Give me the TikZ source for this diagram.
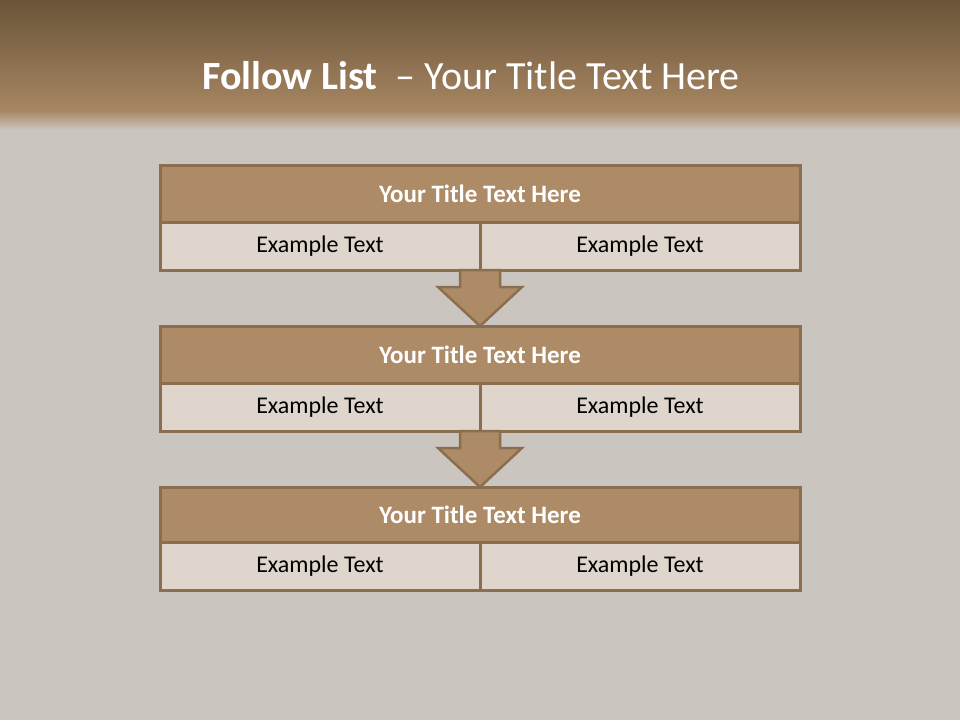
\documentclass[tikz,border=0pt]{standalone}
\usepackage{fontspec}
\setmainfont{Carlito}
\usetikzlibrary{positioning}
\definecolor{wdbrown}{RGB}{174,139,103}
\definecolor{wdedge}{RGB}{139,110,80}
\definecolor{wdlight}{RGB}{222,214,205}
\definecolor{wdback}{RGB}{203,197,191}
\definecolor{wddark}{RGB}{106,84,57}
\definecolor{wdband}{RGB}{166,134,98}

\begin{document}
\begin{tikzpicture}[x=1pt,y=-1pt,
  titlebox/.style={draw=wdedge, line width=3pt, fill=wdbrown, minimum width=640pt,
    minimum height=57pt, inner sep=0pt, outer sep=0pt, text=white,
    font=\fontsize{25}{29}\selectfont\bfseries},
  cellbox/.style={draw=wdedge, line width=3pt, fill=wdlight, minimum width=320pt,
    minimum height=48pt, inner sep=0pt, outer sep=0pt, text=black,
    font=\fontsize{24}{28}\selectfont},
  downarrow/.style={draw=wdedge, line width=2.5pt, fill=wdbrown, line join=miter}]
% background and header band
\fill[wdback] (0,0) rectangle (960,720);
\shade[top color=wddark, bottom color=wdband] (0,0) rectangle (960,110);
\shade[top color=wdband, bottom color=wdback] (0,110) rectangle (960,130);
\node[text=white, font=\fontsize{40}{46}\selectfont] (head) at (471,76)
  {\textbf{Follow List} \ -- Your Title Text Here};
% first block
\node[titlebox] (t1) at (480,193.5) {Your Title Text Here};
\node[cellbox, anchor=north west] (c1a) at (t1.south west) {Example Text};
\node[cellbox, anchor=north east] (c1b) at (t1.south east) {Example Text};
% second block
\node[titlebox] (t2) at (480,354.5) {Your Title Text Here};
\node[cellbox, anchor=north west] (c2a) at (t2.south west) {Example Text};
\node[cellbox, anchor=north east] (c2b) at (t2.south east) {Example Text};
% third block
\node[titlebox, minimum height=55pt] (t3) at (480,514.5) {Your Title Text Here};
\node[cellbox, anchor=north west] (c3a) at (t3.south west) {Example Text};
\node[cellbox, anchor=north east] (c3b) at (t3.south east) {Example Text};
% arrows between blocks
\draw[downarrow] (c1a.south east) ++(-20,0) -- ++(0,17) -- ++(-22,0) -- (t2.north)
  -- ++(42,-39) -- ++(-22,0) -- ++(0,-17) -- cycle;
\draw[downarrow] (c2a.south east) ++(-20,0) -- ++(0,17) -- ++(-22,0) -- (t3.north)
  -- ++(42,-39) -- ++(-22,0) -- ++(0,-17) -- cycle;
\end{tikzpicture}
\end{document}
